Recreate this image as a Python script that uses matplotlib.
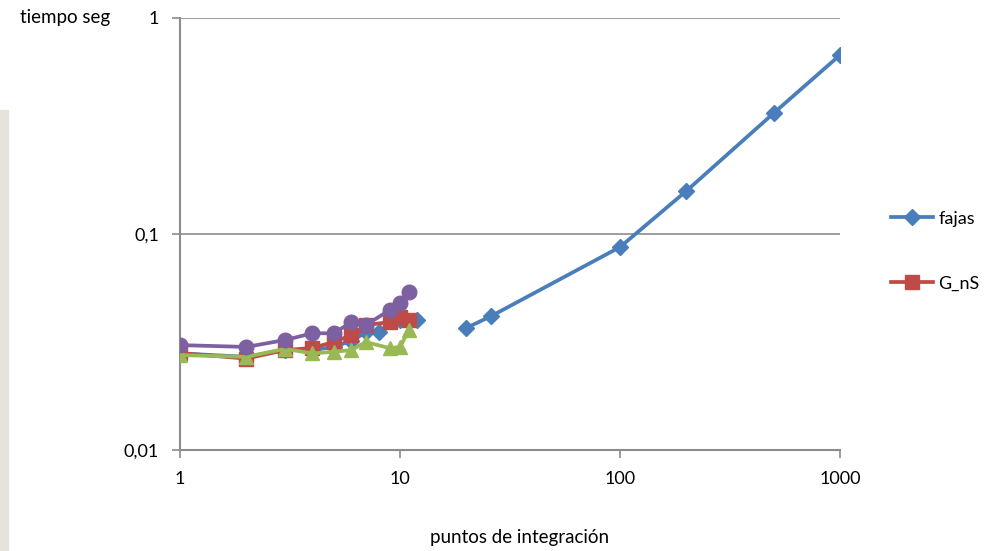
import matplotlib.pyplot as plt
from matplotlib.patches import Rectangle
from matplotlib.ticker import FixedLocator, NullLocator

plt.rcParams['font.family'] = ['Lato', 'DejaVu Sans']

# fajas (blue diamonds)
x_fajas = [1, 2, 3, 4, 5, 6, 7, 8, 10, 12, None, 20, 26, 100, 200, 500, 1000]
y_fajas = [0.028, 0.027, 0.029, 0.029, 0.030, 0.032, 0.035, 0.035, 0.040, 0.040, None,
           0.0367, 0.0417, 0.087, 0.158, 0.363, 0.674]

# G_nS (red squares)
x_gns = [1, 2, 3, 4, 5, 6, 7, 9, 10, 11]
y_gns = [0.0281, 0.0265, 0.029, 0.0297, 0.0316, 0.034, 0.0379, 0.0391, 0.0413, 0.040]

# green triangles
x_green = [1, 2, 3, 4, 5, 6, 7, 9, 10, 11]
y_green = [0.0275, 0.027, 0.0294, 0.028, 0.0285, 0.029, 0.0316, 0.0296, 0.030, 0.036]

# purple circles
x_purple = [1, 2, 3, 4, 5, 6, 7, 9, 10, 11]
y_purple = [0.0306, 0.030, 0.0323, 0.0347, 0.0347, 0.039, 0.0379, 0.0445, 0.048, 0.0539]

x_ticks = [1, 10, 100, 1000]
x_labels = ['1', '10', '100', '1000']
y_ticks = [0.01, 0.1, 1]
y_labels = ['0,01', '0,1', '1']

fig = plt.figure(figsize=(9.9, 5.51), dpi=100)
ax = fig.add_axes([180 / 990, 1 - 450 / 551, 660 / 990, 432 / 551])

# faint strip at the left edge of the picture
fig.patches.append(Rectangle((0, 0), 8 / 990, 0.8, transform=fig.transFigure,
                             color='#e6e3da', zorder=0))

blue, red, green, purple = '#4a7ebb', '#be4b48', '#98b954', '#7d60a0'

# split the fajas series where the gap is
cut = x_fajas.index(None)
l_fajas, = ax.plot(x_fajas[:cut], y_fajas[:cut], color=blue, lw=2.7, marker='D',
                   ms=8, label='fajas', zorder=2)
ax.plot(x_fajas[cut + 1:], y_fajas[cut + 1:], color=blue, lw=2.7, marker='D', ms=8, zorder=2)
l_gns, = ax.plot(x_gns, y_gns, color=red, lw=2.7, marker='s', ms=9.5, label='G_nS', zorder=3)
ax.plot(x_green, y_green, color=green, lw=2.7, marker='^', ms=10.5, zorder=4)
ax.plot(x_purple, y_purple, color=purple, lw=2.7, marker='o', ms=10.5, zorder=5)

ax.set_xscale('log')
ax.set_yscale('log')
ax.set_xlim(1, 1000)
ax.set_ylim(0.01, 1)
ax.xaxis.set_major_locator(FixedLocator(x_ticks))
ax.xaxis.set_minor_locator(NullLocator())
ax.yaxis.set_major_locator(FixedLocator(y_ticks))
ax.yaxis.set_minor_locator(NullLocator())
ax.set_xticklabels(x_labels)
ax.set_yticklabels(y_labels)
ax.tick_params(labelsize=13, colors='#8c8c8c', labelcolor='black', length=6, width=1.2, pad=9)

for s in ['top', 'right']:
    ax.spines[s].set_visible(False)
for s in ['left', 'bottom']:
    ax.spines[s].set_color('#8c8c8c')
    ax.spines[s].set_linewidth(1.5)
ax.grid(axis='y', color='#8c8c8c', lw=1.2)
ax.set_axisbelow(True)

fig.text(20 / 990, 1 - 18 / 551, 'tiempo seg', fontsize=13.5, va='center', ha='left')
fig.text(520 / 990, 1 - 537 / 551, 'puntos de integración', fontsize=13.5, va='center', ha='center')

fig.legend(handles=[l_fajas, l_gns], loc='center left', bbox_to_anchor=(875 / 990, 1 - 251 / 551),
           frameon=False, fontsize=13, labelspacing=2.7, handlelength=2.3, handletextpad=0.3)

fig.savefig('out.png', dpi=100)
